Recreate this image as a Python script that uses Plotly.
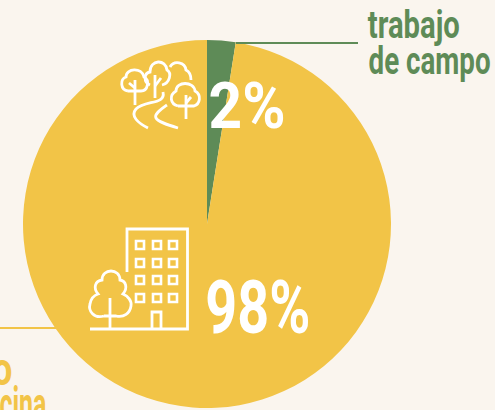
import plotly.graph_objects as go

W, H = 495, 410
BG = "#FAF5EE"
YELLOW = "#F2C447"
GREEN = "#5E8B57"
FONT = "Roboto"

categories = ["trabajo de campo", "de oficina"]
values = [2.5, 97.5]
value_labels = ["2%", "98%"]

fig = go.Figure()
fig.add_trace(go.Pie(
    labels=categories, values=values, sort=False, direction="clockwise", rotation=0,
    marker=dict(colors=[GREEN, YELLOW], line=dict(width=0)),
    textinfo="none", hoverinfo="label+percent", showlegend=False,
    domain=dict(x=[23 / W, 391 / W], y=[1 - 408 / H, 1 - 40 / H]),
))

white = dict(color="white", width=2.8)
thin = dict(color="white", width=2.6)


def add_path(path, line=white):
    fig.add_shape(type="path", xref="x", yref="y", path=path, line=line, layer="above")


# leader lines
fig.add_shape(type="line", xref="x", yref="y", x0=236, y0=43, x1=358, y1=43, line=dict(color=GREEN, width=2))
fig.add_shape(type="line", xref="x", yref="y", x0=0, y0=328, x1=57, y1=328, line=dict(color=YELLOW, width=2))

# building icon
add_path("M127 272 L127 229 L187.5 229 L187.5 329 L90 329")
add_path("M152 329 L152 312 L161 312 L161 329")
for cy in [245, 263, 280, 298]:
    for cx in [140, 157, 173]:
        add_path(f"M{cx-4} {cy-4} L{cx+4} {cy-4} L{cx+4} {cy+4} L{cx-4} {cy+4} Z", thin)
# small tree beside the building
add_path("M110 298 L110 329")
add_path("M104 316 C94 319 88 311 90 304 C91 298 95 295 98 294 C93 288 95 281 102 280 "
         "C102 268 120 268 120 280 C126 281 128 288 123 294 C128 296 132 301 131 306 "
         "C130 313 124 318 116 316 L104 316")

# forest icon
add_path("M135 80 L135 105")
add_path("M135 88 L129 83")
add_path("M128 91 C120 90 120 79 126 77 C126 68 142 67 144 77 C150 80 148 91 141 91 L128 91")
add_path("M155 75 L155 98")
add_path("M155 86 L161 78")
add_path("M150 85 C143 82 144 73 150 72 C150 59 166 59 167 70 C172 73 170 83 162 85")
add_path("M186 95 L186 119")
add_path("M186 103 L191 97")
add_path("M178 106 C170 104 169 95 176 91 C176 81 194 81 195 91 C202 95 200 104 194 106 L178 106")
add_path("M170 67 C174 60 185 62 186 70 C190 72 191 76 191 80")
add_path("M163 92 C166 105 145 100 136 109 C130 116 138 123 148 128")
add_path("M167 105 C160 110 154 114 156 118 C158 122 168 125 178 128")

text_widths = []


def label(text, x_center, y, size, color, width):
    text_widths.append(width)
    fig.add_annotation(text=text, x=x_center / W, y=1 - y / H, xref="paper", yref="paper", showarrow=False,
                       xanchor="center", yanchor="middle",
                       font=dict(family=FONT, size=size, color=color, weight="bold"),
                       borderpad=0, bgcolor="rgba(0,0,0,0)")


label("trabajo", 414, 25, 38, GREEN, 92)
label("de campo", 429, 61, 38, GREEN, 122)
label("trabajo", -44, 369, 46, YELLOW, 112)
label("de oficina", -9, 404, 46, YELLOW, 110)
label(value_labels[0], 246.5, 106, 64, "white", 77)
label(value_labels[1], 257.5, 307, 74, "white", 105)

fig.update_layout(
    width=W, height=H, margin=dict(l=0, r=0, t=0, b=0),
    paper_bgcolor=BG, plot_bgcolor="rgba(0,0,0,0)",
    xaxis=dict(range=[0, W], visible=False, fixedrange=True),
    yaxis=dict(range=[H, 0], visible=False, fixedrange=True),
)
post = """
document.body.style.margin = '0';
document.documentElement.style.overflow = 'hidden';
var widths = %s;
document.querySelectorAll('.annotation').forEach(function (a) {
  var t = a.querySelector('.annotation-text');
  t.setAttribute('textLength', widths[+a.getAttribute('data-index')]);
  t.setAttribute('lengthAdjust', 'spacingAndGlyphs');
});
""" % text_widths
fig.write_html("out.html", config=dict(displayModeBar=False), post_script=post)
